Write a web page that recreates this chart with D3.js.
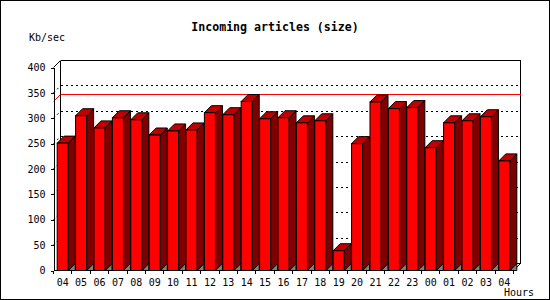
<!DOCTYPE html>
<html>
<head>
<meta charset="utf-8">
<script src="https://cdn.jsdelivr.net/npm/d3@7"></script>
<style>
  body { margin:0; background:#fff; }
  svg text { font-family:"DejaVu Sans Mono", monospace; fill:#000; }
</style>
</head>
<body>
<svg id="chart" width="550" height="300"></svg>
<script>
// data
var hours = ['04','05','06','07','08','09','10','11','12','13','14','15','16',
	'17','18','19','20','21','22','23','00','01','02','03','04b'];
var hourLabels = ['04','05','06','07','08','09','10','11','12','13','14','15','16',
	'17','18','19','20','21','22','23','00','01','02','03','04'];
var kbPerSec = [251,305,281,301,297,267,275,277,311,307,333,299,301,
	291,295,39,250,332,319,321,242,291,295,303,216];
var yTicks = [0,50,100,150,200,250,300,350,400];
var gridTicks = [50,100,150,200,250,300,350];

var W = 550, H = 300, depth = 7;
var plotL = 53, plotR = 513, plotB = 270, plotT = 67;
var svg = d3.select('#chart');

var x = d3.scaleBand().domain(hours).range([plotL, plotR]).paddingInner(0.4).paddingOuter(0.2);
var y = d3.scaleLinear().domain([0, 400]).range([plotB, plotT]);
var maxLine = d3.max(kbPerSec);

// outer border
svg.append('rect').attr('x',0.5).attr('y',0.5).attr('width',W-1).attr('height',H-1)
	.attr('fill','#fff').attr('stroke','#000');

var g = svg.append('g').attr('transform','translate(0.5,0.5)');
function line(x1,y1,x2,y2,col,dash) {
	var l = g.append('line').attr('x1',x1).attr('y1',y1).attr('x2',x2).attr('y2',y2)
		.attr('stroke',col || '#000').attr('stroke-width',1);
	if (x1 === x2 || y1 === y2) { l.attr('shape-rendering','crispEdges'); }
	if (dash) { l.attr('stroke-dasharray',dash); }
	return l;
}

// back wall
line(plotL+depth, y(400)-depth, plotR+depth, y(400)-depth);
line(plotL+depth, y(400)-depth, plotL+depth, plotB-depth);
line(plotR+depth, y(400)-depth, plotR+depth, plotB-depth);
line(plotL+depth, plotB-depth, plotR+depth, plotB-depth);
line(plotL, y(400), plotL+depth, y(400)-depth);
line(plotR, plotB, plotR+depth, plotB-depth);
gridTicks.forEach(function(v) {
	line(plotL+depth, y(v)-depth, plotR+depth, y(v)-depth, '#000', '2,3');
	line(plotL, y(v), plotL+depth, y(v)-depth, '#000', '2,3');
});

// max line
line(plotL+depth, y(maxLine)-depth, plotR+depth, y(maxLine)-depth, '#ff0000');
line(plotL, y(maxLine), plotL+depth, y(maxLine)-depth, '#ff0000');

// bars
var bars = g.selectAll('g.bar').data(hours).enter().append('g').attr('class','bar');
bars.each(function(h, i) {
	var b = d3.select(this);
	var x0 = x(h), x1 = x(h) + x.bandwidth(), yt = y(kbPerSec[i]);
	b.append('polygon') // floor patch
		.attr('points', [[x1,plotB],[x1+depth,plotB-depth],[x1+depth,plotB]].join(' '))
		.attr('fill','#808080').attr('stroke','#000').attr('stroke-width',1);
	b.append('polygon') // side
		.attr('points', [[x1,yt],[x1+depth,yt-depth],[x1+depth,plotB-depth],[x1,plotB]].join(' '))
		.attr('fill','#800000').attr('stroke','#000').attr('stroke-width',1);
	b.append('polygon') // top
		.attr('points', [[x0,yt],[x0+depth,yt-depth],[x1+depth,yt-depth],[x1,yt]].join(' '))
		.attr('fill','#c00000').attr('stroke','#000').attr('stroke-width',1);
	b.append('rect') // front
		.attr('x',x0).attr('y',yt).attr('width',x.bandwidth()).attr('height',plotB-yt)
		.attr('fill','#ff0000').attr('stroke','#000').attr('stroke-width',1);
});

// y axis
var yAxis = d3.axisLeft(y).tickValues(yTicks).tickSize(3).tickSizeOuter(0).tickPadding(5);
var ya = svg.append('g').attr('transform','translate(' + (plotL+0.5) + ',0.5)').call(yAxis);
ya.select('.domain').attr('stroke','#000').attr('shape-rendering','crispEdges');
ya.selectAll('.tick line').attr('stroke','#000').attr('shape-rendering','crispEdges');
ya.selectAll('text').attr('font-size',10).attr('font-family','DejaVu Sans Mono');

// x axis: labels centred on bars, ticks on slot boundaries
var xAxis = d3.axisBottom(x).tickSize(0).tickPadding(8).tickFormat(function(d, i) { return hourLabels[i]; });
var xa = svg.append('g').attr('transform','translate(0.5,' + (plotB+0.5) + ')').call(xAxis);
xa.select('.domain').remove();
xa.selectAll('text').attr('font-size',10).attr('font-family','DejaVu Sans Mono');
line(plotL, plotB, plotR, plotB);
var pad = (x.step() - x.bandwidth()) / 2;
hours.concat([null]).forEach(function(h) {
	var bx = h === null ? plotR : x(h) - pad;
	line(bx, plotB, bx, plotB + 3);
});

// titles
svg.append('text').attr('x', 275).attr('y', 31).attr('text-anchor','middle')
	.attr('font-size',11.6).attr('font-weight','bold').text('Incoming articles (size)');
svg.append('text').attr('x', 29).attr('y', 41).attr('font-size',10).text('Kb/sec');
svg.append('text').attr('x', 534).attr('y', 296).attr('text-anchor','end').attr('font-size',10).text('Hours');
</script>
</body>
</html>
